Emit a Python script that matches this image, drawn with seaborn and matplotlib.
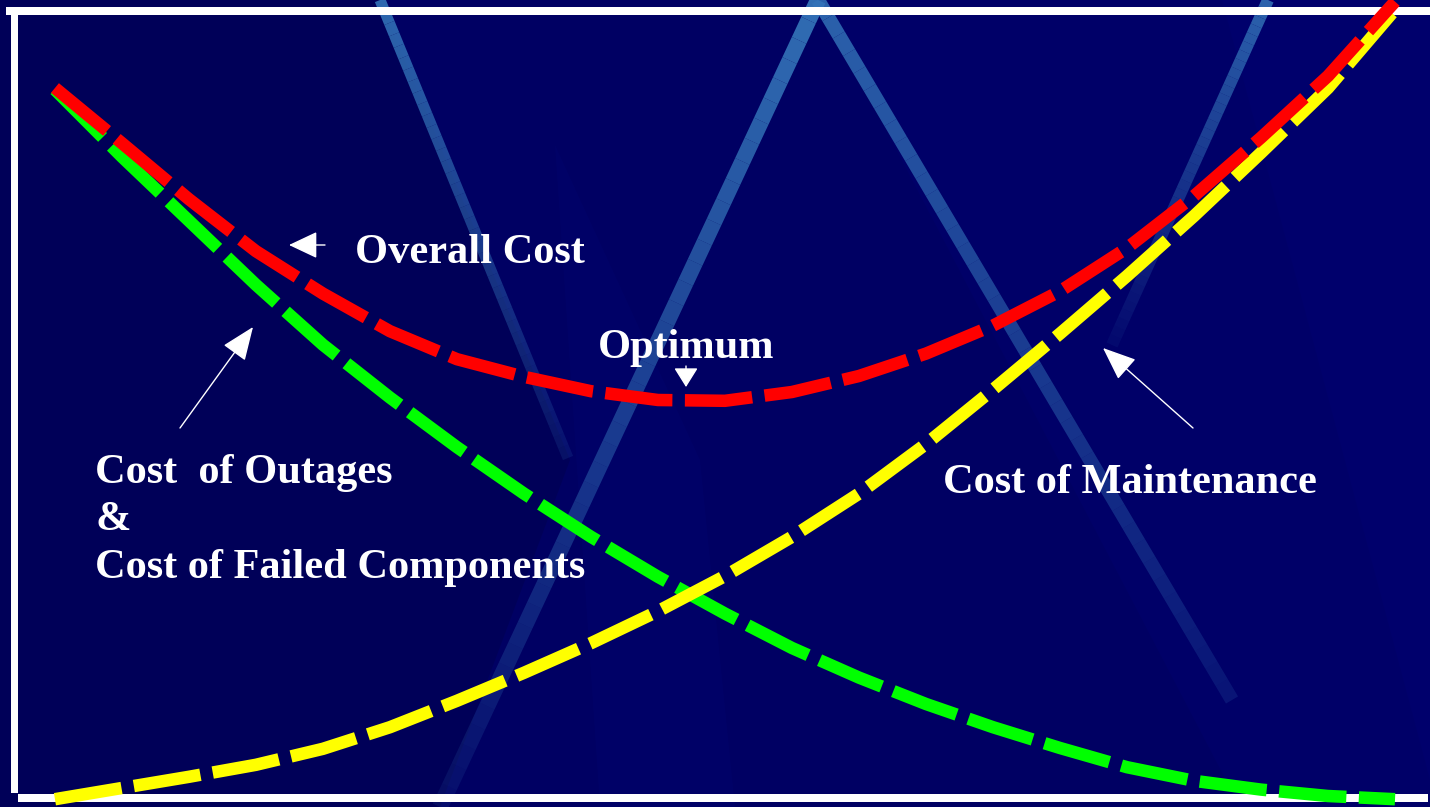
import numpy as np
import pandas as pd
import matplotlib
matplotlib.use("Agg")
import matplotlib.pyplot as plt
import seaborn as sns
from matplotlib.collections import LineCollection
from matplotlib.patches import Rectangle, Polygon

# ---------------- data ----------------
maintenance_level = [0, 5, 10, 15, 20, 25, 30, 35, 40, 45, 50,
                     55, 60, 65, 70, 75, 80, 85, 90, 95, 100]
cost_overall = [89.0, 82.1, 75.1, 68.6, 63.3, 58.6, 55.1, 52.9, 51.1, 50.0, 49.9,
                51.0, 53.0, 55.8, 59.3, 63.6, 69.0, 75.5, 82.8, 90.5, 99.8]
cost_outages = [88.8, 80.4, 72.4, 64.4, 56.9, 50.3, 44.1, 38.3, 32.9, 27.9, 23.3,
                19.0, 15.3, 12.0, 9.1, 6.5, 4.1, 2.4, 1.3, 0.5, 0.1]
cost_maintenance = [0.1, 1.5, 2.9, 4.4, 6.4, 9.1, 12.4, 15.9, 19.6, 23.6, 28.0,
                    32.9, 38.3, 44.5, 51.3, 58.3, 65.5, 73.0, 80.9, 89.0, 98.8]
series_names = ["outages", "maintenance", "overall"]
series_colors = {"outages": "#00FF00", "maintenance": "#FFFF00", "overall": "#FF0000"}

labels = {
    "overall": "Overall Cost",
    "optimum": "Optimum",
    "outages": "Cost  of Outages\n&\nCost of Failed Components",
    "maintenance": "Cost of Maintenance",
}

df = pd.concat([
    pd.DataFrame({"level": maintenance_level, "cost": cost_outages, "series": "outages"}),
    pd.DataFrame({"level": maintenance_level, "cost": cost_maintenance, "series": "maintenance"}),
    pd.DataFrame({"level": maintenance_level, "cost": cost_overall, "series": "overall"}),
], ignore_index=True)

# ---------------- figure ----------------
W, H = 1430, 807
BG = "#000063"
sns.set_theme(style="white")
plt.rcParams["font.family"] = ["Liberation Serif", "DejaVu Serif"]

fig = plt.figure(figsize=(W / 100, H / 100), dpi=100)
fig.patch.set_facecolor(BG)
ax = fig.add_axes([0, 0, 1, 1])
ax.set_facecolor(BG)
for s in ax.spines.values():
    s.set_visible(False)


def P(x, y):
    """pixel position -> axes fraction"""
    return (x / W, 1 - y / H)


# subtle background shading
shades = [
    ([(0, 0), (380, 0), (570, 460), (440, 807), (0, 807)], "#000058", 1.0),
    ([(818, 0), (1268, 0), (1430, 620), (1430, 807), (1240, 807)], "#000068", 1.0),
    ([(555, 145), (700, 460), (735, 807), (600, 807)], "#000a7a", 0.18),
    ([(1222, 0), (1430, 0), (1430, 780)], "#00006c", 1.0),
]
for pts, c, a in shades:
    ax.add_patch(Polygon([P(*p) for p in pts], closed=True, transform=ax.transAxes,
                         facecolor=c, edgecolor="none", alpha=a, zorder=0.2))


def streak(p0, p1, width_px, a0, a1, color=(0.20, 0.45, 0.72), n=40):
    xs = np.linspace(p0[0], p1[0], n + 1)
    ys = np.linspace(p0[1], p1[1], n + 1)
    segs = [[P(xs[i], ys[i]), P(xs[i + 1], ys[i + 1])] for i in range(n)]
    alphas = np.linspace(a0, a1, n)
    cols = [(color[0], color[1], color[2], a) for a in alphas]
    lc = LineCollection(segs, colors=cols, linewidths=width_px * 0.72,
                        transform=ax.transAxes, capstyle="butt", zorder=0.5)
    ax.add_collection(lc)


streak((380, 0), (568, 458), 11, 0.9, 0.15)
streak((818, 0), (440, 807), 16, 0.95, 0.12)
streak((818, 0), (1232, 700), 14, 0.85, 0.18)
streak((1268, 0), (1112, 345), 12, 0.85, 0.08)

# white frame lines
for (x0, y0, x1, y1) in [(6, 7, 1430, 15), (11, 15, 18, 793), (18, 794, 1428, 802)]:
    ax.add_patch(Rectangle(P(x0, y1), (x1 - x0) / W, (y1 - y0) / H, transform=ax.transAxes,
                           facecolor="white", edgecolor="none", zorder=1.5, clip_on=False))

# ---------------- curves ----------------
sns.lineplot(data=df, x="level", y="cost", hue="series", style="series",
             hue_order=series_names, style_order=series_names,
             palette=series_colors,
             dashes={k: (5.4, 1.0) for k in series_names},
             linewidth=9.0, estimator=None, sort=False, legend=False, ax=ax, zorder=2)

ax.set_xlim(-4.10, 102.61)
ax.set_ylim(-0.875, 100.0)
ax.set_xticks([])
ax.set_yticks([])
ax.set_xlabel("")
ax.set_ylabel("")

# ---------------- text & arrows ----------------
FS = 30.5
tkw = dict(transform=ax.transAxes, color="white", fontsize=FS, fontweight="bold",
           ha="left", va="baseline", zorder=5)
ax.text(*P(355, 263), labels["overall"], **tkw)
ax.text(*P(598, 358), labels["optimum"], **tkw)
ax.text(*P(95, 483), labels["outages"].split("\n")[0], **tkw)
ax.text(*P(95, 530), labels["outages"].split("\n")[1], **tkw)
ax.text(*P(95, 578), labels["outages"].split("\n")[2], **tkw)
ax.text(*P(943, 493), labels["maintenance"], **tkw)


def arrow(tail, tip, hl, hw):
    ax.annotate("", xy=P(*tip), xytext=P(*tail), xycoords="axes fraction",
                textcoords="axes fraction", zorder=5,
                arrowprops=dict(arrowstyle=f"-|>,head_length={hl},head_width={hw}",
                                mutation_scale=1, color="white", lw=1.0,
                                shrinkA=0, shrinkB=0))


arrow((325, 245), (289, 245), 18, 8.5)
arrow((686, 366), (686, 387), 12, 7.5)
arrow((180, 428), (253, 327), 21, 8.5)
arrow((1193, 428), (1103, 348), 21, 8.5)

fig.savefig("out.png", dpi=100, facecolor=BG)
